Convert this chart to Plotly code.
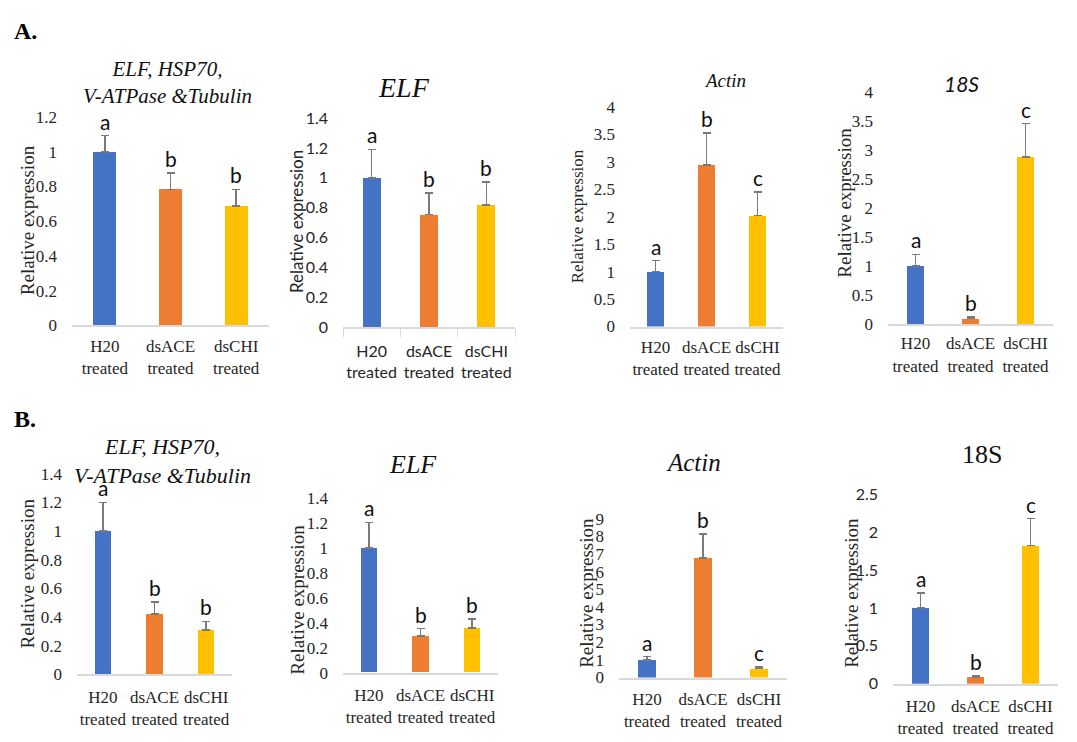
import plotly.graph_objects as go

W, H = 1077, 742
categories = ["H20<br>treated", "dsACE<br>treated", "dsCHI<br>treated"]
colors = ["#4472C4", "#ED7D31", "#FFC000"]

# Values (mean) and upper error for each panel
A1_vals = [1.0, 0.783, 0.689]; A1_err = [0.093, 0.095, 0.094]; A1_let = ["a", "b", "b"]
A2_vals = [1.0, 0.754, 0.819]; A2_err = [0.19, 0.145, 0.154]; A2_let = ["a", "b", "b"]
A3_vals = [1.0, 2.94, 2.02];   A3_err = [0.2, 0.58, 0.43];    A3_let = ["a", "b", "c"]
A4_vals = [1.0, 0.095, 2.88];  A4_err = [0.2, 0.022, 0.57];   A4_let = ["a", "b", "c"]
B1_vals = [1.0, 0.421, 0.31];  B1_err = [0.2, 0.084, 0.059];  B1_let = ["a", "b", "b"]
B2_vals = [1.0, 0.294, 0.359]; B2_err = [0.205, 0.06, 0.073]; B2_let = ["a", "b", "b"]
B3_vals = [0.99, 6.78, 0.51];  B3_err = [0.2, 1.36, 0.1];     B3_let = ["a", "b", "c"]
B4_vals = [1.0, 0.086, 1.83];  B4_err = [0.2, 0.012, 0.356];  B4_let = ["a", "b", "c"]

titles = ["<i>ELF, HSP70,<br>V-ATPase &Tubulin</i>", "<i>ELF</i>", "<i>Actin</i>", "<i>18S</i>",
          "<i>ELF, HSP70,<br>V-ATPase &Tubulin</i>", "<i>ELF</i>", "<i>Actin</i>", "18S"]
ymax = [1.2, 1.4, 4, 4, 1.4, 1.4, 9, 2.5]
dticks = [0.2, 0.2, 0.5, 0.5, 0.2, 0.2, 1, 0.5]

SERIF = "Times New Roman, Liberation Serif, serif"
SANS = "Lato, Carlito, Open Sans, sans-serif"

# layout specs (pixels): x0, x1, y_zero, y_top
geo = [
    (72, 269, 324, 110), (343, 515, 326, 111), (630, 783, 325.3, 99.3), (888, 1053, 322.7, 84),
    (77, 232, 682.7, 476.7), (343, 498, 681, 501.7), (619, 787, 686, 522.7), (893, 1058, 692.3, 498.3),
]
barw = [0.35, 0.31, 0.33, 0.31, 0.32, 0.32, 0.32, 0.31]
tickfont = [SERIF, SANS, SERIF, SERIF, SERIF, SERIF, SERIF, SANS]
catfont = [SERIF, SANS, SERIF, SERIF, SERIF, SERIF, SERIF, SERIF]
ylabfont = [SERIF, SANS, SERIF, SERIF, SERIF, SERIF, SERIF, SERIF]
ylabsize = [19, 17, 17, 19, 19, 19, 19, 19]
titlepos = [(167, 74), (404, 80), (725, 72), (961, 76), (162, 464), (413, 467), (693, 465), (982, 457)]
titlefont = [(SERIF, 21), (SERIF, 28), (SERIF, 19), (SANS, 21), (SERIF, 22), (SERIF, 26), (SERIF, 25), (SERIF, 26)]
ylabpos = [(27, 216), (296, 218), (577, 212), (845, 198), (27, 579), (298, 606), (587, 599), (852, 599)]
cat_standoff = [4, 9, 4, 3, 6, 6, 5, 6]

vals_all = [A1_vals, A2_vals, A3_vals, A4_vals, B1_vals, B2_vals, B3_vals, B4_vals]
errs_all = [A1_err, A2_err, A3_err, A4_err, B1_err, B2_err, B3_err, B4_err]
lets_all = [A1_let, A2_let, A3_let, A4_let, B1_let, B2_let, B3_let, B4_let]

fig = go.Figure()
ann = []
for i in range(8):
    k = "" if i == 0 else str(i + 1)
    x0, x1, yz, yt = geo[i]
    fig.add_trace(go.Bar(
        x=categories, y=vals_all[i], marker=dict(color=colors, line=dict(width=0)),
        width=barw[i], xaxis="x" + k, yaxis="y" + k, showlegend=False,
        error_y=dict(type="data", array=errs_all[i], arrayminus=[0, 0, 0], symmetric=False,
                     color="#7a7a7a", thickness=1.6, width=4),
    ))
    fig.layout["xaxis" + k] = dict(
        domain=[x0 / W, x1 / W], anchor="y" + k, type="category",
        showline=True, linecolor="#d9d9d9", linewidth=2, showgrid=False, zeroline=False,
        ticks="outside" if i == 1 else "", tickson="boundaries" if i == 1 else "labels",
        ticklen=8, tickcolor="#d9d9d9", tickwidth=1, tickangle=0,
        ticklabelstandoff=cat_standoff[i],
        tickfont=dict(family=catfont[i], size=16 if catfont[i] == SANS else 17, color="#262626"),
        fixedrange=True,
    )
    fig.layout["yaxis" + k] = dict(
        domain=[1 - yz / H, 1 - yt / H], anchor="x" + k, range=[0, ymax[i]], dtick=dticks[i],
        showline=False, showgrid=False, zeroline=False,
        tickfont=dict(family=tickfont[i], size=17 if tickfont[i] == SERIF else 16, color="#262626"),
        ticklabelstandoff=14, fixedrange=True,
    )
    for j in range(3):
        ann.append(dict(x=categories[j], y=vals_all[i][j] + errs_all[i][j], xref="x" + k, yref="y" + k,
                        text=lets_all[i][j], showarrow=False, yanchor="bottom", yshift=0,
                        font=dict(family=SANS, size=21, color="#111111")))
    tx, ty = titlepos[i]
    ann.append(dict(x=tx / W, y=1 - ty / H, xref="paper", yref="paper", text=titles[i], showarrow=False,
                    xanchor="center", yanchor="middle",
                    font=dict(family=titlefont[i][0], size=titlefont[i][1], color="#111111")))
    lx, ly = ylabpos[i]
    ann.append(dict(x=lx / W, y=1 - ly / H, xref="paper", yref="paper", text="Relative expression",
                    textangle=-90, showarrow=False, xanchor="center", yanchor="middle",
                    font=dict(family=ylabfont[i], size=ylabsize[i], color="#262626")))

ann.append(dict(x=12 / W, y=1 - 22 / H, xref="paper", yref="paper", text="<b>A.</b>", showarrow=False,
                xanchor="left", yanchor="middle", font=dict(family=SERIF, size=24, color="black")))
ann.append(dict(x=12 / W, y=1 - 420 / H, xref="paper", yref="paper", text="<b>B.</b>", showarrow=False,
                xanchor="left", yanchor="middle", font=dict(family=SERIF, size=24, color="black")))

fig.update_layout(width=W, height=H, margin=dict(l=0, r=0, t=0, b=0),
                  paper_bgcolor="white", plot_bgcolor="white", annotations=ann, bargap=0)
fig.write_html("out.html", config={"displayModeBar": False})
